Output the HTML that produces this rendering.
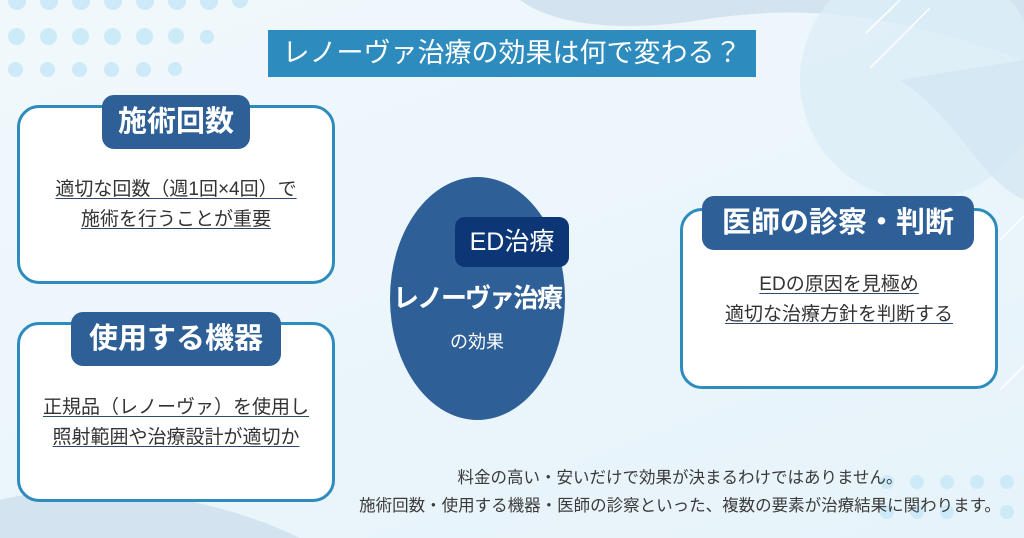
<!DOCTYPE html>
<html><head><meta charset="utf-8"><style>
*{margin:0;padding:0;box-sizing:border-box}
body{width:1024px;height:538px;overflow:hidden;position:relative;font-family:"Liberation Sans","Noto Sans CJK JP",sans-serif;background:linear-gradient(160deg,#f1f8fc 0%,#eaf5fb 60%,#e6f3fa 100%)}
.abs{position:absolute;white-space:nowrap}
.dot{position:absolute;border-radius:50%;background:#cdeaf8}
.title{left:268px;top:30px;width:488px;height:47px;background:#2e8bbd;color:#fff;font-size:27px;text-align:center;line-height:47px}
.box{position:absolute;background:#fff;border:3px solid #2e8bbd;border-radius:22px}
.tab{position:absolute;background:#2e5f97;color:#fff;font-weight:bold;font-size:29px;text-align:center;border-radius:12px;line-height:54px;height:54px;white-space:nowrap}
.txt{position:absolute;text-align:center;color:#333;font-size:19px;line-height:30px;white-space:nowrap}
.txt span{text-decoration:underline;text-decoration-color:#2e4a6a;text-underline-offset:3px}
</style></head><body>
<svg class="abs" style="left:0;top:0" width="1024" height="538">
<path d="M520 0 C560 30 640 30 700 20 C800 5 880 10 1024 60 L1024 0 Z" fill="#d3e3f0"/>
<circle cx="920" cy="80" r="120" fill="#dcedf8" opacity="0.8"/>
<path d="M1024 60 L1024 200 C980 180 960 120 900 80 Z" fill="#cfe2f2" opacity="0.6"/>
<path d="M0 500 C80 480 200 490 300 538 L0 538 Z" fill="#d3e3f0"/>
<line x1="870" y1="68" x2="930" y2="8" stroke="#fff" stroke-width="1.5"/>
<line x1="866" y1="33" x2="900" y2="0" stroke="#fff" stroke-width="1.5"/>
<line x1="1000" y1="390" x2="1024" y2="366" stroke="#fff" stroke-width="1.5"/>
<line x1="1000" y1="240" x2="1024" y2="216" stroke="#fff" stroke-width="1.5"/>
</svg>
<div class="dot" style="left:8px;top:-8px;width:18px;height:18px"></div>
<div class="dot" style="left:40px;top:-8px;width:18px;height:18px"></div>
<div class="dot" style="left:72px;top:-8px;width:18px;height:18px"></div>
<div class="dot" style="left:104px;top:-8px;width:18px;height:18px"></div>
<div class="dot" style="left:136px;top:-8px;width:18px;height:18px"></div>
<div class="dot" style="left:168px;top:-8px;width:18px;height:18px"></div>
<div class="dot" style="left:200px;top:-8px;width:18px;height:18px"></div>
<div class="dot" style="left:232px;top:-8px;width:16px;height:16px"></div>
<div class="dot" style="left:8px;top:28px;width:17px;height:17px"></div>
<div class="dot" style="left:40px;top:28px;width:17px;height:17px"></div>
<div class="dot" style="left:72px;top:28px;width:17px;height:17px"></div>
<div class="dot" style="left:104px;top:28px;width:17px;height:17px"></div>
<div class="dot" style="left:136px;top:28px;width:17px;height:17px"></div>
<div class="dot" style="left:168px;top:28px;width:16px;height:16px"></div>
<div class="dot" style="left:200px;top:30px;width:14px;height:14px"></div>
<div class="dot" style="left:8px;top:62px;width:15px;height:15px"></div>
<div class="dot" style="left:40px;top:62px;width:15px;height:15px"></div>
<div class="dot" style="left:72px;top:62px;width:15px;height:15px"></div>
<div class="dot" style="left:104px;top:62px;width:15px;height:15px"></div>
<div class="dot" style="left:136px;top:62px;width:15px;height:15px"></div>
<div class="dot" style="left:168px;top:62px;width:14px;height:14px"></div>
<div class="dot" style="left:880px;top:475px;width:14px;height:14px"></div>
<div class="dot" style="left:910px;top:475px;width:14px;height:14px"></div>
<div class="dot" style="left:940px;top:475px;width:14px;height:14px"></div>
<div class="dot" style="left:970px;top:475px;width:14px;height:14px"></div>
<div class="dot" style="left:1000px;top:475px;width:14px;height:14px"></div>
<div class="dot" style="left:880px;top:505px;width:14px;height:14px"></div>
<div class="dot" style="left:910px;top:505px;width:14px;height:14px"></div>
<div class="dot" style="left:940px;top:505px;width:14px;height:14px"></div>
<div class="dot" style="left:1000px;top:505px;width:14px;height:14px"></div>

<div class="abs title">レノーヴァ治療の効果は何で変わる？</div>

<div class="box" style="left:17px;top:105px;width:318px;height:179px"></div>
<div class="tab" style="left:102px;top:95px;width:148px">施術回数</div>
<div class="txt" style="left:17px;top:175px;width:318px"><span>適切な回数（週1回×4回）で</span><br><span>施術を行うことが重要</span></div>

<div class="box" style="left:17px;top:322px;width:318px;height:180px"></div>
<div class="tab" style="left:71px;top:312px;width:210px">使用する機器</div>
<div class="txt" style="left:17px;top:393px;width:318px"><span>正規品（レノーヴァ）を使用し</span><br><span>照射範囲や治療設計が適切か</span></div>

<div class="box" style="left:680px;top:208px;width:318px;height:181px"></div>
<div class="tab" style="left:702px;top:196px;width:272px">医師の診察・判断</div>
<div class="txt" style="left:680px;top:270px;width:318px"><span>EDの原因を見極め</span><br><span>適切な治療方針を判断する</span></div>

<div class="abs" style="left:390px;top:177px;width:175px;height:243px;border-radius:50%;background:#2e5f97"></div>
<div class="abs" style="left:455px;top:217px;width:114px;height:50px;background:#0d3677;border-radius:10px;color:#fff;font-size:25px;line-height:50px;text-align:center">ED治療</div>
<div class="abs" style="left:372px;top:278px;width:210px;text-align:center;color:#fff;font-weight:bold;font-size:26px;line-height:40px;letter-spacing:-2px">レノーヴァ治療</div>
<div class="abs" style="left:377px;top:328px;width:200px;text-align:center;color:#fff;font-size:18px;line-height:28px">の効果</div>

<div class="abs" style="left:340px;top:464px;width:680px;text-align:center;color:#3a3a3a;font-size:16.5px;line-height:28px">料金の高い・安いだけで効果が決まるわけではありません。<br>施術回数・使用する機器・医師の診察といった、複数の要素が治療結果に関わります。</div>
</body></html>
